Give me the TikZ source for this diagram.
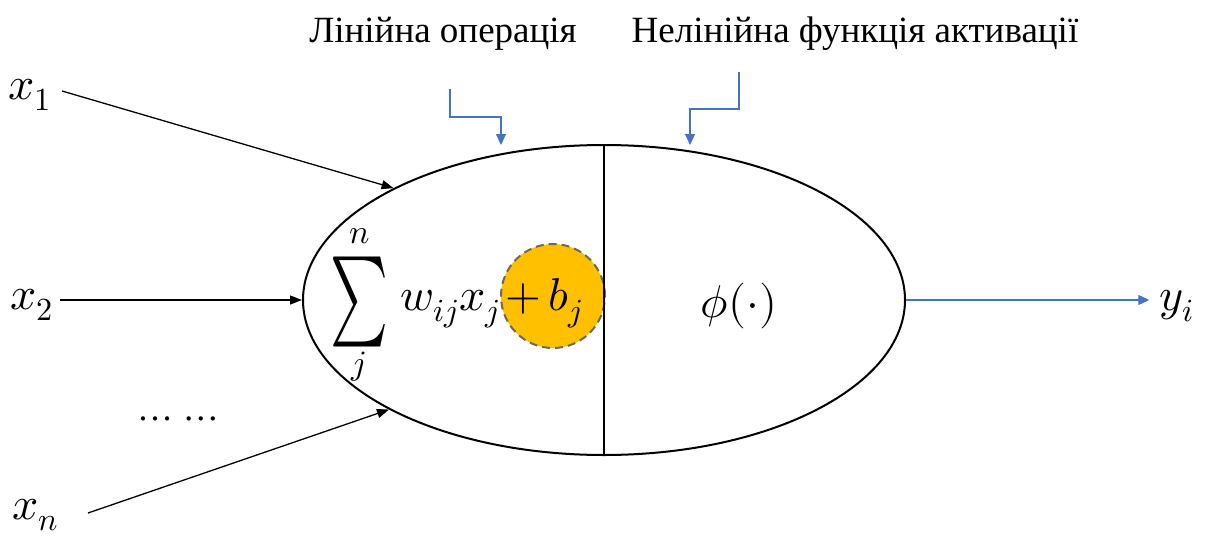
\documentclass[tikz,border=0pt]{standalone}
\usepackage{fontspec}
\usepackage{unicode-math}
\newfontfamily\cyrserif{LiberationSerif}[Extension=.ttf, UprightFont=*-Regular]
\setmathfont{Latin Modern Math}
\usetikzlibrary{arrows.meta,shapes.geometric}
\definecolor{arrowblue}{HTML}{4472C4}
\definecolor{biasfill}{HTML}{FFC000}
\definecolor{biasline}{HTML}{6E6A55}
\begin{document}
\begin{tikzpicture}[x=0.5pt,y=-0.5pt,
  inarrow/.style={draw=black, line width=0.65pt, -{Triangle[length=6pt,width=4.5pt]}},
  bluearrow/.style={draw=arrowblue, line width=0.55pt, -{Triangle[length=5.5pt,width=5pt]}},
  mathlbl/.style={inner sep=0pt, font=\fontsize{23}{27}\selectfont},
  limlbl/.style={inner sep=0pt, font=\fontsize{17}{20}\selectfont},
  toplbl/.style={inner sep=0pt, anchor=base, font=\cyrserif\fontsize{18.5}{22}\selectfont}]
\useasboundingbox (0,0) rectangle (1214,535);
% neuron body
\node[ellipse, draw, line width=1pt, minimum width=301pt, minimum height=155pt, inner sep=0pt] (ell) at (604,300) {};
\node[circle, fill=biasfill, draw=biasline, dash pattern=on 4pt off 2.5pt, line width=1pt, minimum size=52pt, inner sep=0pt] (bias) at (553,296) {};
\draw[line width=0.8pt] (ell.north) -- (ell.south);
% formula
\node[inner sep=0pt] (sig) at (359,302) {\resizebox*{29pt}{45pt}{$\sum$}};
\node[limlbl] (supn) at (360,236) {$n$};
\node[limlbl] (subj) at (359,367) {$j$};
\node[mathlbl, anchor=base west] (wx) at (400,310) {$w_{ij}x_j$};
\node[mathlbl, anchor=base west] (bj) at (505,310) {$+\,b_j$};
\node[mathlbl] (phi) at (739,306) {$\phi(\cdot)$};
% top labels
\node[toplbl] (lin) at (443,43) {Лінійна операція};
\node[toplbl] (nonlin) at (855,43) {Нелінійна функція активації};
% inputs
\node[mathlbl] (x1) at (30,95) {$x_1$};
\node[mathlbl] (x2) at (32,305) {$x_2$};
\node[mathlbl] (xn) at (36,515) {$x_n$};
\node[inner sep=0pt, anchor=base, font=\cyrserif\fontsize{18}{22}\selectfont] (dots) at (178,420) {…\hspace{5pt}…};
\coordinate (s1) at (62,91);
\coordinate (s2) at (60,300);
\coordinate (s3) at (88,513);
\draw[inarrow] (s1) -- (ell.152.6);
\draw[inarrow] (s2) -- (ell.west);
\draw[inarrow] (s3) -- (ell.207.8);
% output
\node[mathlbl] (yi) at (1177,306) {$y_i$};
\draw[bluearrow, shorten >=5pt] (ell.east) -- (ell.east -| yi.west);
% bent pointers
\coordinate (l1) at (450,89);
\coordinate (l2) at (501,145);
\coordinate (r1) at (739,72);
\coordinate (r2) at (690,145);
\draw[bluearrow] (l1) -- ++(0,28) -| (l2);
\draw[bluearrow] (r1) -- ++(0,37) -| (r2);
\end{tikzpicture}
\end{document}
